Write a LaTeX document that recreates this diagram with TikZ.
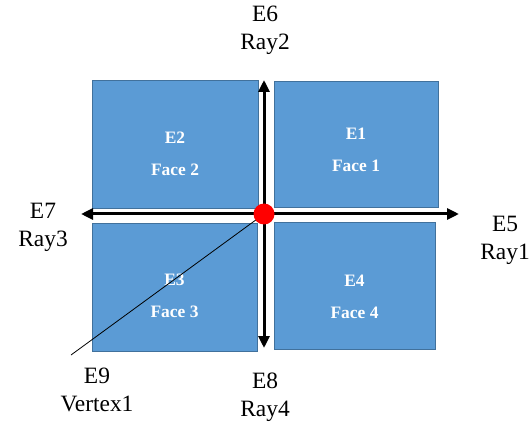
\documentclass[tikz,border=0pt]{standalone}
\usepackage{fontspec}
\setmainfont{Liberation Serif}
\usetikzlibrary{arrows.meta}
\definecolor{boxfill}{HTML}{5B9BD5}
\definecolor{boxline}{HTML}{41719C}
\begin{document}
\begin{tikzpicture}[x=1bp,y=-1bp,
  facebox/.style={draw=boxline,line width=1bp,fill=boxfill,inner sep=0pt},
  facetext/.style={text=white,font=\fontsize{17.5}{32}\selectfont\bfseries,align=center,inner sep=0pt,yshift=-8.5bp},
  halo/.style={white,line width=8bp},
  ray/.style={black,line width=3bp,-{Triangle[length=12bp,width=11bp]}},
  lbl/.style={font=\fontsize{23.5}{28}\selectfont,align=center,inner sep=0pt}]
\useasboundingbox (0,0) rectangle (530,434);
\node[facebox,minimum width=166bp,minimum height=128bp] (f2) at (175,145) {};
\node[facebox,minimum width=164bp,minimum height=126bp] (f1) at (356,145) {};
\node[facebox,minimum width=165bp,minimum height=127bp] (f3) at (174.5,287.5) {};
\node[facebox,minimum width=161bp,minimum height=126bp] (f4) at (354.5,286) {};
\node[facetext] (t2) at (f2.center) {E2\\Face 2};
\node[facetext] (t1) at ([yshift=4bp]f1.center) {E1\\Face 1};
\node[facetext] (t3) at (f3.center) {E3\\Face 3};
\node[facetext] (t4) at ([yshift=-2bp]f4.center) {E4\\Face 4};
\coordinate (o) at (264,214);
\coordinate (r1) at (459,214);
\coordinate (r3) at (81,214);
\coordinate (r2) at (264,80);
\coordinate (r4) at (264,348);
\coordinate (v) at (71,355);
\draw[halo] (r3) -- (r1);
\draw[halo] (r2) -- (r4);
\draw[ray] (o) -- (r1);
\draw[ray] (o) -- (r3);
\draw[ray] (o) -- (r2);
\draw[ray] (o) -- (r4);
\draw[black,line width=0.8bp] (o) -- (v);
\node[circle,fill=red,minimum size=21bp,inner sep=0pt] (dot) at (o) {};
\node[lbl] (l6) at (265,30) {E6\\Ray2};
\node[lbl] (l7) at (43,227) {E7\\Ray3};
\node[lbl] (l5) at (505,240) {E5\\Ray1};
\node[lbl] (l8) at (265,397) {E8\\Ray4};
\node[lbl] (l9) at (97,390) {E9\\Vertex1};
\end{tikzpicture}
\end{document}
